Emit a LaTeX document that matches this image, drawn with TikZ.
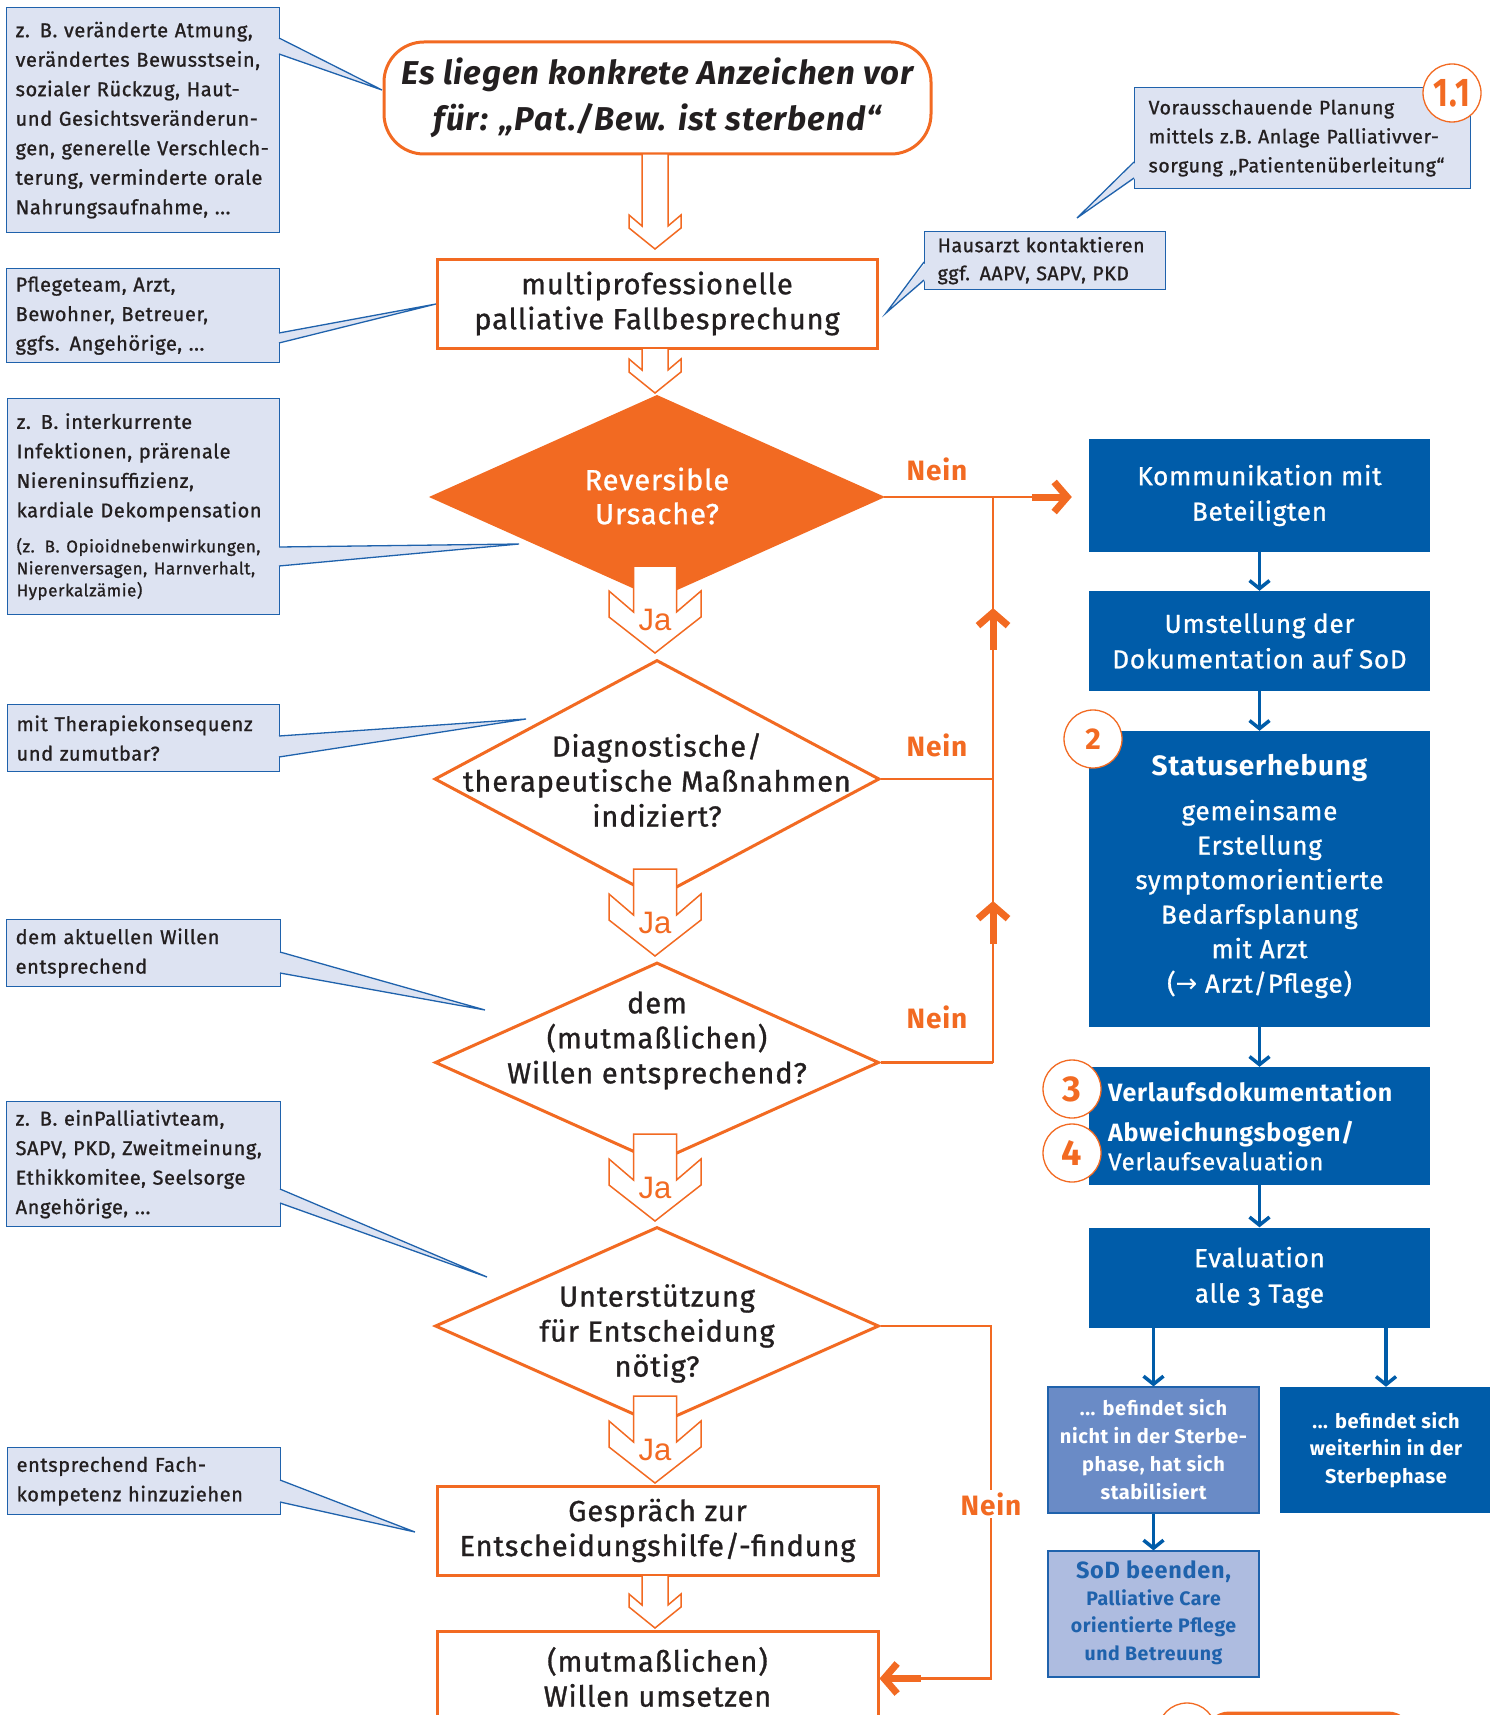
\documentclass[tikz,border=0pt]{standalone}
\usepackage{fontspec}
\setmainfont{Fira Sans}[LetterSpace=3,UprightFeatures={FakeBold=1.0},ItalicFeatures={FakeBold=1.0}]
\newfontfamily\firaos{Fira Sans}[LetterSpace=3,Numbers=OldStyle,UprightFeatures={FakeBold=1.0}]
\newfontfamily\arialf{Liberation Sans}
\newfontfamily\djv{DejaVu Sans}
\usetikzlibrary{arrows.meta,calc,shapes.geometric}
\definecolor{orng}{HTML}{F26A22}
\definecolor{dblue}{HTML}{005CA9}
\definecolor{cfill}{HTML}{DDE3F2}
\definecolor{cline}{HTML}{1F62AC}
\definecolor{mblue}{HTML}{6A8BC6}
\definecolor{lblue}{HTML}{AEBCE0}
\definecolor{txt}{HTML}{231F20}
\tikzset{
 flowbox/.style={draw=orng, line width=3pt, fill=white, inner sep=0pt, text=txt, align=center, font=\fontsize{29}{35}\selectfont},
 flowtext/.style={inner sep=0pt, text=txt, align=center, font=\fontsize{29}{35}\selectfont},
 dia/.style={diamond, draw=orng, line width=3pt, fill=white, inner sep=0pt},
 ja/.style={draw=orng, line width=1.5pt, fill=white, line join=miter},
 jatext/.style={text=orng, inner sep=0pt, font=\arialf\fontsize{31}{31}\selectfont},
 callout/.style={draw=cline, fill=cfill, line width=1.3pt, anchor=north west, inner xsep=9pt, inner ysep=0pt, align=left, text=txt, font=\fontsize{20}{29.5}\selectfont},
 ptr/.style={draw=cline, line width=1.3pt},
 bluebox/.style={fill=dblue, inner sep=0pt, text=white, align=center, font=\fontsize{26}{35.5}\selectfont},
 btext/.style={inner sep=0pt, text=white, align=center, font=\fontsize{26}{34.5}\selectfont},
 numcirc/.style={circle, draw=orng, fill=white, line width=1.3pt, minimum size=58pt, inner sep=0pt, text=orng},
 bluearrow/.style={draw=dblue, line width=3.5pt, -{Straight Barb[length=8pt,width=20pt]}},
 oline/.style={draw=orng, line width=2.5pt},
 oarrow/.style={draw=orng, line width=7pt, -{Straight Barb[length=13pt,width=30pt]}},
 nein/.style={text=orng, inner sep=2pt, font=\bfseries\fontsize{28}{28}\selectfont},
}
\newcommand\pointer[4]{\fill[cfill] ([xshift=#4]#1) -- (#3) -- ([xshift=#4]#2) -- cycle; \draw[ptr] (#1) -- (#3) -- (#2);}
\newcommand\jaarrow[2]{%
  \begin{scope}[shift={(#1)}]
    \draw[ja] (-21.5,-87) -- (-21.5,-41) -- (-46,-62) -- (-46,-36) -- (0,0) -- (46,-36) -- (46,-62) -- (21.5,-41) -- (21.5,-87) -- cycle;
    \node[jatext] (#2) at (0,-33) {Ja};
  \end{scope}}
\newcommand\hollowarrow[2]{%
  \begin{scope}[shift={(#1)}]
    \draw[ja] (-13,-#2) -- (-13,-23) -- (-26,-34) -- (-26,-21) -- (0,0) -- (26,-21) -- (26,-34) -- (13,-23) -- (13,-#2) -- cycle;
  \end{scope}}
\begin{document}
\begin{tikzpicture}[x=1pt,y=-1pt]
\useasboundingbox (0,0) rectangle (1490,1715);
\clip (0,0) rectangle (1490,1715);

% ---------- left callouts ----------
\node[callout, minimum height=225pt, text width=255pt] (c1) at (6,7) {z. B. veränderte Atmung,\\verändertes Bewusstsein,\\sozialer Rückzug, Haut-\\und Gesichtsveränderun-\\gen, generelle Verschlech-\\terung, verminderte orale\\Nahrungsaufnahme, ...};
\pointer{279,38}{279,54}{382,90}{-2pt}

\node[callout, minimum height=94pt, text width=255pt] (c2) at (6,268) {Pflegeteam, Arzt,\\Bewohner, Betreuer,\\ggfs. Angehörige, ...};
\pointer{279,333}{279,343}{436,304}{-2pt}

\node[callout, minimum height=216pt, text width=254pt] (c3) at (7,398) {z. B. interkurrente\\Infektionen, prärenale\\Niereninsuffizienz,\\kardiale Dekompensation\par\vspace{13pt}{\fontsize{17}{22}\selectfont (z. B. Opioidnebenwirkungen,\\Nierenversagen, Harnverhalt,\\Hyperkalzämie)\par}};
\pointer{279,547}{279,566}{519,544}{-2pt}

\node[callout, minimum height=67pt, text width=254pt] (c4) at (7,704) {mit Therapiekonsequenz\\und zumutbar?};
\pointer{279,736}{279,757}{526,719}{-2pt}

\node[callout, minimum height=67pt, text width=256pt] (c5) at (6,919) {dem aktuellen Willen\\entsprechend};
\pointer{280,952}{280,973}{485,1010}{-2pt}

\node[callout, minimum height=125pt, text width=256pt] (c6) at (6,1101) {z. B. einPalliativteam,\\SAPV, PKD, Zweitmeinung,\\Ethikkomitee, Seelsorge\\Angehörige, ...};
\pointer{280,1189}{280,1203}{487,1277}{-2pt}

\node[callout, minimum height=67pt, text width=255pt] (c7) at (7,1447) {entsprechend Fach-\\kompetenz hinzuziehen};
\pointer{280,1480}{280,1502}{415,1532}{-2pt}

% ---------- right callouts ----------
\node[callout, inner xsep=13pt, minimum height=58pt, text width=215pt, font=\fontsize{19.5}{28}\selectfont] (r1) at (924,231) {Hausarzt kontaktieren\\ggf. AAPV, SAPV, PKD};
\pointer{924,262}{924,280}{886,313}{2pt}

\node[callout, inner xsep=14pt, minimum height=101pt, text width=308pt, font=\fontsize{19.5}{29}\selectfont] (r2) at (1134,87) {Vorausschauende Planung\\mittels z.B. Anlage Palliativver-\\sorgung „Patientenüberleitung“};
\pointer{1134,162}{1134,178}{1077,218}{2pt}
\node[numcirc, font=\bfseries\fontsize{40}{40}\selectfont] (n11) at (1452,93) {\scalebox{0.8}[1]{1.1}};

% ---------- main flow ----------
\node[flowbox, rounded corners=40pt, minimum width=547pt, minimum height=112pt, font=\bfseries\itshape\fontsize{33}{46}\selectfont] (start) at (657.5,98) {Es liegen konkrete Anzeichen vor\\für: „Pat./Bew. ist sterbend“};
\node[flowbox, minimum width=440pt, minimum height=89pt] (fall) at (657,303.5) {multiprofessionelle\\palliative Fallbesprechung};
\coordinate (ha1) at (655,249);
\hollowarrow{ha1}{95}
\coordinate (ha2) at (655,393);
\hollowarrow{ha2}{45}

\node[dia, fill=orng, minimum width=450pt, minimum height=202pt] (d1) at (657,497) {};
\node[flowtext, text=white, font=\fontsize{29}{34}\selectfont] (d1t) at (657,496) {Reversible\\Ursache?};
\node[dia, minimum width=445pt, minimum height=238pt] (d2) at (657,779) {};
\node[flowtext] (d2t) at (657,780) {Diagnostische/\\therapeutische Maßnahmen\\indiziert?};
\node[dia, minimum width=444pt, minimum height=200pt] (d3) at (657,1062.5) {};
\node[flowtext] (d3t) at (657,1040.5) {dem\\(mutmaßlichen)\\Willen entsprechend?};
\node[dia, minimum width=444pt, minimum height=198pt] (d4) at (657,1326) {};
\node[flowtext] (d4t) at (657,1333.5) {Unterstützung\\für Entscheidung\\nötig?};

\coordinate (ja1) at (655,653);
\jaarrow{ja1}{jat1}
\coordinate (ja2) at (655,956);
\jaarrow{ja2}{jat2}
\coordinate (ja3) at (655,1221);
\jaarrow{ja3}{jat3}
\coordinate (ja4) at (655,1483);
\jaarrow{ja4}{jat4}

\node[flowbox, minimum width=441pt, minimum height=89pt] (gesp) at (657.5,1530.5) {Gespräch zur\\Entscheidungshilfe/-findung};
\coordinate (ha3) at (655,1628);
\hollowarrow{ha3}{53}
\node[flowbox, anchor=north, minimum width=441pt, minimum height=94pt] (umsetz) at (657.5,1630) {};
\node[flowtext] (umsetzt) at (657.5,1677) {(mutmaßlichen)\\Willen umsetzen};

% ---------- right column ----------
\node[bluebox, minimum width=341pt, minimum height=113pt] (b1) at (1259.5,495.5) {Kommunikation mit\\Beteiligten};
\node[bluebox, minimum width=341pt, minimum height=100pt] (b2) at (1259.5,641) {Umstellung der\\Dokumentation auf SoD};
\node[bluebox, minimum width=341pt, minimum height=296pt] (b3) at (1259.5,879) {};
\node[btext, font=\bfseries\fontsize{28}{28}\selectfont] (b3t) at (1259.5,768) {Statuserhebung};
\node[btext] (b3b) at (1259.5,899) {gemeinsame\\Erstellung\\symptomorientierte\\Bedarfsplanung\\mit Arzt\\({\djv →} Arzt/Pflege)};
\node[bluebox, minimum width=341pt, minimum height=118pt] (b4) at (1259.5,1126) {};
\node[btext, anchor=west, font=\bfseries\fontsize{25}{25}\selectfont] (b4a) at (1108,1092) {Verlaufsdokumentation};
\node[btext, anchor=west, font=\bfseries\fontsize{25}{25}\selectfont] (b4b) at (1108,1134) {Abweichungsbogen/};
\node[btext, anchor=west, font=\fontsize{24}{24}\selectfont] (b4c) at (1108,1161) {Verlaufsevaluation};
\node[bluebox, minimum width=341pt, minimum height=100pt] (b5) at (1259.5,1277.5) {Evaluation\\alle {\firaos 3} Tage};
\node[bluebox, fill=mblue, draw=cline, line width=1.2pt, minimum width=211pt, minimum height=126pt, font=\bfseries\fontsize{20}{28}\selectfont] (b6) at (1153.5,1450) {... befindet sich\\nicht in der Sterbe-\\phase, hat sich\\stabilisiert};
\node[bluebox, minimum width=212pt, minimum height=126pt, font=\bfseries\fontsize{20}{27.5}\selectfont] (b7) at (1386,1450) {... befindet sich\\weiterhin in der\\Sterbephase};
\node[bluebox, fill=lblue, draw=cline, line width=1.2pt, minimum width=211pt, minimum height=126pt] (b8) at (1153.5,1614) {};
\node[btext, text=cline, font=\bfseries\fontsize{23.5}{23.5}\selectfont] (b8t) at (1153.5,1572) {SoD beenden,};
\node[btext, text=cline, font=\bfseries\fontsize{19.5}{27.5}\selectfont] (b8b) at (1153.5,1627) {Palliative Care\\orientierte Pflege\\und Betreuung};

\draw[bluearrow] (b1) -- (b2);
\draw[bluearrow] (b2) -- (b3);
\draw[bluearrow] (b3) -- (b4);
\draw[bluearrow] (b4) -- (b5);
\draw[bluearrow] (b6.north |- b5.south) -- (b6.north);
\draw[bluearrow] (b7.north |- b5.south) -- (b7.north);
\draw[bluearrow] (b6) -- (b8);

\node[numcirc, font=\bfseries\fontsize{30}{30}\selectfont] (n2) at (1093,739) {2};
\node[numcirc, font=\bfseries\fontsize{36}{36}\selectfont] (n3) at (1072,1089) {3};
\node[numcirc, font=\bfseries\fontsize{36}{36}\selectfont] (n4) at (1072,1153) {4};

% ---------- Nein connectors ----------
\coordinate (vx) at (993,0);
\coordinate (vx2) at (991,0);
\draw[oline] (d1.east) -- (d1.east -| vx) -- (d3.east -| vx);
\draw[oline] (d1.east -| vx) -- ($(d1.east -| b1.west)+(-50,0)$);
\draw[oarrow] ($(d1.east -| b1.west)+(-57,0)$) -- ($(d1.east -| b1.west)+(-17,0)$);
\draw[oline] (d2.east) -- (d2.east -| vx);
\draw[oline] (d3.east) -- (d3.east -| vx);
\coordinate (u1s) at (993,650);
\coordinate (u1t) at (993,608);
\draw[oarrow] (u1s) -- (u1t);
\coordinate (u2s) at (993,944);
\coordinate (u2t) at (993,901);
\draw[oarrow] (u2s) -- (u2t);
\draw[oline] (d4.east) -- (d4.east -| vx2) -- (umsetz.east -| vx2) -- ($(umsetz.east)+(38,0)$);
\draw[oarrow] ($(umsetz.east)+(41,0)$) -- (umsetz.east);

\node[nein] (ne1) at (937,469) {Nein};
\node[nein] (ne2) at (937,745) {Nein};
\node[nein] (ne3) at (937,1017) {Nein};
\node[nein, fill=white] (ne4) at (991,1504) {Nein};

% ---------- next step (cut off) ----------
\draw[orng, line width=5pt, rounded corners=22pt] (1207,1714) rectangle (1410,1800);
\node[numcirc] (n5) at (1187,1732) {};
\end{tikzpicture}
\end{document}
